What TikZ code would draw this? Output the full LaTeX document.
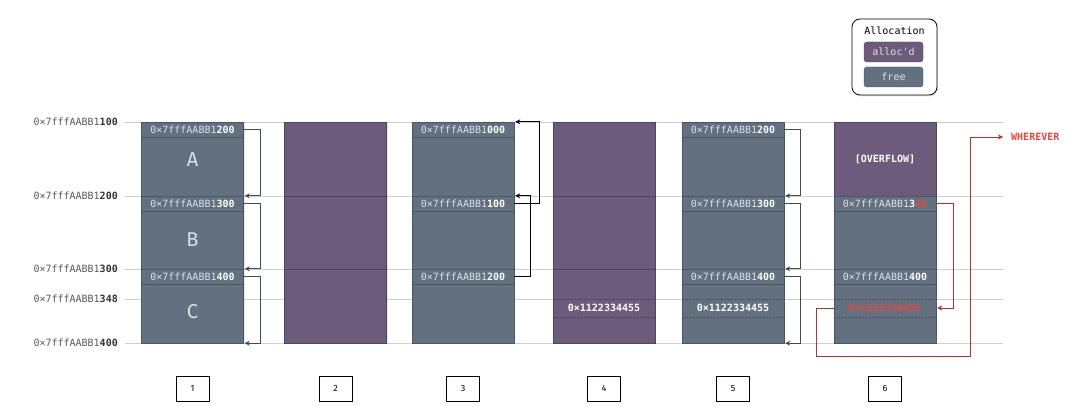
\documentclass[tikz,border=0pt]{standalone}
\usepackage{fontspec}
\setmainfont{Fira Sans}
\setsansfont{Fira Sans}
\setmonofont{DejaVu Sans Mono}
\usetikzlibrary{arrows.meta, shadows}

\definecolor{allocd}{HTML}{6C5B7B}
\definecolor{allocline}{HTML}{4F4262}
\definecolor{freeblk}{HTML}{637080}
\definecolor{freeline}{HTML}{495667}
\definecolor{ptrcolor}{HTML}{3E4B5C}
\definecolor{gridcolor}{HTML}{CFCFCF}
\definecolor{hexlight}{HTML}{DCE1E8}
\definecolor{badred}{HTML}{E8453C}
\definecolor{badline}{HTML}{B5352C}
\definecolor{addrgray}{HTML}{5A5A5A}

\newcommand{\hexaddr}[1]{0×7fffAABB1\textbf{\textcolor{white}{#1}}}

\begin{document}
\begin{tikzpicture}[
    x=1pt, y=-1pt,
    col/.style={rectangle, inner sep=0pt, minimum width=102pt, minimum height=221pt,
        drop shadow={opacity=0.18, shadow xshift=1pt, shadow yshift=-1.5pt}},
    freecol/.style={col, fill=freeblk, draw=freeline},
    alloccol/.style={col, fill=allocd, draw=allocline},
    hdr/.style={rectangle, inner sep=0pt, minimum width=102pt, minimum height=15pt,
        fill=freeblk, draw=freeline, text=hexlight, font=\fontsize{10}{12}\ttfamily},
    valrow/.style={inner sep=0pt, minimum width=102pt, minimum height=18pt,
        text=white, font=\fontsize{10}{12}\ttfamily\bfseries},
    ptr/.style={draw=ptrcolor, line width=0.8pt, -{Stealth[length=5pt, width=5pt]}, shorten >=1pt},
    blackptr/.style={ptr, draw=black},
    redptr/.style={ptr, draw=badline},
    lbl/.style={anchor=east, inner sep=0pt, text=addrgray, font=\fontsize{10}{12}\ttfamily},
    letter/.style={text=hexlight, font=\fontsize{20}{24}\selectfont},
    key/.style={rectangle, rounded corners=3pt, minimum width=59pt, minimum height=20pt,
        inner sep=0pt, text=hexlight, font=\fontsize{10}{12}\ttfamily},
    numbox/.style={draw=black, line width=0.6pt, minimum width=33pt, minimum height=25pt,
        inner sep=0pt, font=\fontsize{9}{11}\sffamily},
]
\useasboundingbox (0,0) rectangle (1080,406);

% Address grid
\foreach \y in {122, 196, 269, 299, 343} {
    \draw[gridcolor, line width=0.8pt] (125,\y) -- (1003,\y);
}
\foreach \y/\hi in {122/100, 196/200, 269/300, 299/348, 343/400} {
    \node[lbl] (a\hi) at (118,\y) {0×7fffAABB1\textbf{\textcolor{black!80}{\hi}}};
}

% Heap columns
\node[freecol]  (c1) at (192.5,232.5) {};
\node[alloccol] (c2) at (335.5,232.5) {};
\node[freecol]  (c3) at (463,232.5) {};
\node[alloccol] (c4) at (604,232.5) {};
\node[freecol]  (c5) at (733,232.5) {};
\node[freecol]  (c6) at (885,232.5) {};
\node[rectangle, inner sep=0pt, minimum width=102pt, minimum height=74pt,
    fill=allocd, draw=allocline, text=white, font=\fontsize{10}{12}\ttfamily\bfseries]
    (o6) at (885,159) {[OVERFLOW]};

% separators inside alloc'd chunks
\foreach \c in {c2, c4} {
    \foreach \y in {196, 269} {
        \draw[allocline, line width=0.8pt] (\c.west |- 0,\y) -- (\c.east |- 0,\y);
    }
}

% Free chunk headers (fd pointers)
\foreach \c/\x/\a/\b/\d in {1/192.5/200/300/400, 3/463/000/100/200, 5/733/200/300/400} {
    \node[hdr] (h\c a) at (\x,129.5) {\hexaddr{\a}};
    \node[hdr] (h\c b) at (\x,203.5) {\hexaddr{\b}};
    \node[hdr] (h\c c) at (\x,276.5) {\hexaddr{\d}};
}
\node[hdr] (h6b) at (885,203.5) {0×7fffAABB1\textbf{\textcolor{white}{3}\textcolor{badred}{48}}};
\node[hdr] (h6c) at (885,276.5) {\hexaddr{400}};

% Chunk names
\node[letter] (na) at (192.5,160) {A};
\node[letter] (nb) at (192.5,240) {B};
\node[letter] (nc) at (192.5,312) {C};

% Written values
\node[valrow] (v4) at (604,308) {0×1122334455};
\node[valrow] (v5) at (733,308) {0×1122334455};
\node[valrow, text=badred] (v6) at (885,308) {0×1122334455};
\draw[allocline, densely dotted] (v4.north west) -- (v4.north east);
\draw[allocline, densely dotted] (v4.south west) -- (v4.south east);
\foreach \v in {v5, v6} {
    \draw[freeline, densely dotted] (\v.north west) -- (\v.north east);
    \draw[freeline, densely dotted] (\v.south west) -- (\v.south east);
}

% Pointers
\draw[ptr] (h1a.east) -- ++(17,0) |- (h1b.north east);
\draw[ptr] (h1b.east) -- ++(17,0) |- (h1c.north east);
\draw[ptr] (h1c.east) -- ++(17,0) |- (c1.south east);

\draw[blackptr] (h3b.east) -- ++(25,0) |- (h3a.north east);
\draw[blackptr] (h3c.east) -- ++(16,0) |- (h3b.north east);

\draw[ptr] (h5a.east) -- ++(16,0) |- (h5b.north east);
\draw[ptr] (h5b.east) -- ++(16,0) |- (h5c.north east);
\draw[ptr] (h5c.east) -- ++(16,0) |- (c5.south east);

% Corrupted pointer
\node[anchor=west, inner sep=4pt, text=badred, font=\fontsize{10}{12}\ttfamily\bfseries]
    (wv) at (1007,137) {WHEREVER};
\coordinate (loop) at (970,356);
\draw[redptr] (h6b.east) -- ++(17,0) |- (v6.east);
\draw[redptr, shorten >=4pt] (v6.west) -- ++(-17,0) |- (loop) |- (wv.west);

% Legend
\node[draw=black, line width=0.8pt, fill=white, rounded corners=8pt, minimum width=85pt,
    minimum height=76pt, drop shadow={opacity=0.2, shadow xshift=1pt, shadow yshift=-1.5pt}]
    (leg) at (894.5,57) {};
\node[font=\fontsize{10}{12}\ttfamily] (legt) at (894.5,31) {Allocation};
\node[key, fill=allocd, draw=allocline] (ka) at (893.5,52) {alloc'd};
\node[key, fill=freeblk, draw=freeline] (kf) at (893.5,77) {free};

% Step numbers
\foreach \n/\x in {1/192.5, 2/335.5, 3/463, 4/604, 5/733, 6/885} {
    \node[numbox] (s\n) at (\x,388.5) {\n};
}

\end{tikzpicture}
\end{document}
